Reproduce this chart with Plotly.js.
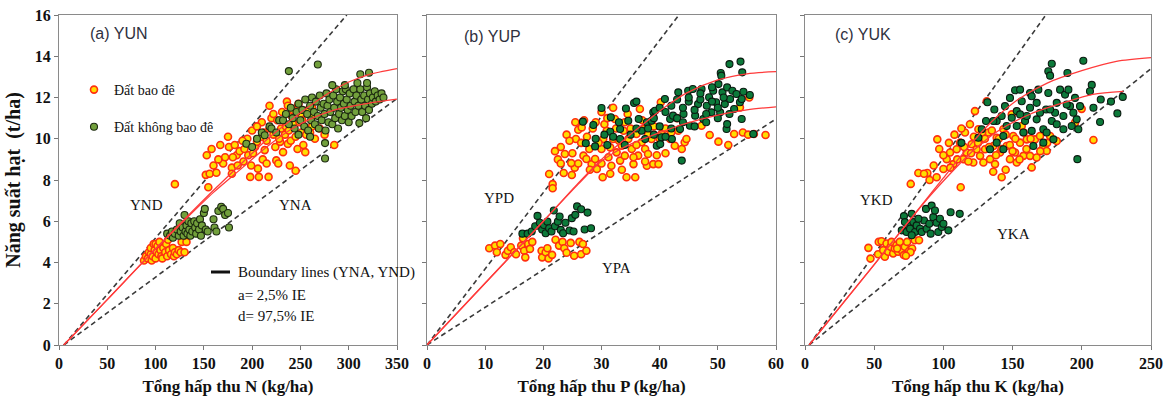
<!DOCTYPE html>
<html><head><meta charset="utf-8">
<script src="https://cdn.plot.ly/plotly-3.0.1.min.js"></script>
<style>html,body{margin:0;padding:0;background:#fff}#chart{width:1173px;height:415px}</style>
</head><body><div id="chart"></div>
<script>
// ---------- Panel (a) YUN : N uptake ----------
const aBaoDe = [[88,4.1],[90,4.3],[92,4.2],[93,4.5],[95,4.4],[95,4.7],[96,4.1],[97,4.3],[98,4.9],[99,4.6],[100,4.2],[100,4.9],[101,4.5],[102,4.8],[103,4.4],[104,5.0],[105,4.6],[106,4.3],[107,4.2],[108,4.7],[110,4.5],[111,4.9],[112,4.3],[113,5.1],[114,4.6],[116,4.4],[118,4.7],[119,4.3],[120,4.5],[122,4.4],[124,4.6],[126,4.5],[127,5.0],[130,4.5],[132,5.0],
[120,7.8],[152,8.25],[156,8.3],[154.6,7.65],[153,9.2],[163,8.35],[167,9.7],[170,8.8],[175,10.1],[176,9.6],[179,8.6],[179,8.3],[182,9.7],[184,9.2],[187,9.4],[191,8.9],[192,9.5],[196,9.2],[198,8.15],[199,8.7],[201,9.3],[203,9.6],[205,9.85],[206,8.55],[207,8.15],[210,10.1],[210,10.8],[211,9.0],[213,9.45],[215,8.8],[217,8.15],[218,11.6],[220,11.0],[222,10.2],[224,9.6],[225,8.95],[227,8.8],[229,9.85],[230,10.5],[232,9.35],[234,10.2],[236,11.8],[237,11.6],[237,9.75],[239,8.7],[241,11.1],[243,10.7],[245,8.45],[246,11.5],[248,11.7],[249,10.8],[251,10.3],[253,9.7],[255,9.35],[256,10.2],[260,10.3],[262,11.5],[263,11.1],[275,10.2],[285,9.7],
[195,10.0],[200,10.4],[205,10.6],[212,10.3],[215,9.9],[218,10.5],[222,11.2],[226,10.9],[228,10.0],[231,11.3],[235,10.6],[238,10.4],[240,9.9],[242,11.4],[245,10.1],[247,9.5],[250,11.2],[252,10.9],[258,11.4],[262,10.6],[265,10.0],[270,10.5],[185,8.7],[190,9.9],[180,9.1],[172,9.1],[165,9.0],[160,8.7],[158,9.5]];
const aKhongBaoDe = [[112,5.4],[115,5.3],[117,5.5],[118,5.2],[120,5.4],[122,5.6],[124,5.3],[125,5.9],[126,5.5],[128,5.7],[129,5.3],[130,6.3],[131,5.5],[132,5.8],[133,5.4],[134,6.0],[135,5.6],[136,5.3],[137,5.9],[138,5.5],[140,6.0],[141,5.7],[142,5.4],[143,5.9],[145,5.6],[146,6.1],[147,5.3],[148,5.8],[150,6.4],[151,6.6],[152,5.6],[154,5.5],[160,6.1],[161,5.7],[163,5.5],[165,6.5],[168,6.7],[170,6.6],[172,6.3],[175,6.4],[176,5.7],
[194,9.76],[200,9.6],[205,10.0],[210,10.3],[213,10.17],[218,10.6],[220,10.5],[225,10.3],[228,10.9],[232,10.9],[235,11.2],[238,10.7],[240,11.5],[242,11.0],[244,10.5],[246,11.3],[248,11.7],[250,10.9],[252,11.4],[254,10.6],[255,11.9],[257,11.2],[258,10.4],[260,11.6],[261,10.9],[262,12.0],[264,11.3],[265,10.7],[266,11.8],[268,11.1],[269,10.5],[270,12.1],[271,11.5],[272,10.9],[274,11.7],[275,11.2],[276,10.4],[277,12.2],[278,11.6],[279,10.8],[280,11.9],[281,11.3],[283,10.7],[284,12.1],[285,11.5],[286,11.0],[287,12.4],[288,11.8],[289,10.5],[290,11.2],[291,12.0],[292,11.5],[293,10.9],[294,12.3],[295,11.7],[296,11.1],[297,12.4],[298,11.9],[299,11.4],[300,10.8],[301,12.2],[302,11.6],[303,11.1],[305,12.4],[306,11.8],[307,11.3],[308,12.1],[310,11.6],[311,10.76],[312,12.4],[313,11.9],[314,11.3],[316,12.1],[317,11.6],[318,11.0],[319,12.5],[320,11.9],[321,11.4],[322,12.2],[324,11.7],[325,12.0],[327,12.3],[328,11.8],[330,12.1],[332,11.9],[334,12.2],[336,12.0],[275.5,9.04],[275.5,9.79],[238,13.28],[268,13.6],[312,13.13],[321,13.2],[283,12.6],[296,12.6],[309,12.7],[319,12.7],[260,10.1],[248,10.2]];
const aCurveHi = [[5,0],[50,2.2],[100,4.67],[130,6.1],[160,7.5],[190,8.85],[215,9.95],[240,10.9],[260,11.6],[284,12.35],[300,12.75],[320,13.1],[350,13.4]];
const aCurveLo = [[5,0],[50,2.2],[100,4.65],[130,6.05],[160,7.4],[190,8.6],[215,9.6],[240,10.45],[260,10.95],[284,11.38],[320,11.72],[350,11.92]];
const aYND = [[5,0],[298,16]];
const aYNA = [[5,0],[350,11.95]];

// ---------- Panel (b) YUP : P uptake ----------
const bBaoDe = [[10.7,4.69],[11.7,4.82],[12.0,4.5],[12.6,4.9],[13.5,4.37],[13.9,4.57],[14.4,4.74],[15.0,4.5],[15.3,4.4],[16.2,4.82],[16.5,5.17],[16.7,4.57],[16.9,4.25],[17.4,4.9],[17.7,4.66],[18.1,5.0],[19.7,4.57],[19.8,4.25],[20.4,4.5],[20.7,4.69],[20.9,4.2],[21.5,4.37],[22.1,5.1],[22.7,4.82],[23.3,5.0],[23.6,4.69],[24.0,4.47],[24.7,4.95],[25.3,4.33],[26.2,5.0],[26.5,4.4],[26.8,4.9],[27.4,4.57],
[21.0,8.29],[21.6,7.8],[21.6,7.6],[23.7,9.26],[23.5,8.34],[24.9,8.24],[25.4,8.6],[24.8,8.82],[25.6,9.99],[26.0,10.44],[26.6,10.55],[26.9,9.18],[27.4,9.02],[27.9,9.5],[28.3,8.77],[28.9,9.02],[29.2,8.53],[30.0,9.5],[30.2,8.13],[30.3,9.99],[30.9,10.39],[31.2,9.1],[31.5,9.58],[31.7,8.69],[32.0,9.99],[32.3,10.96],[32.6,9.34],[33.2,8.94],[33.5,9.66],[33.8,10.39],[34.0,9.18],[34.3,8.13],[34.6,9.99],[35.2,9.5],[35.5,8.77],[35.8,8.13],[36.0,10.23],[36.3,9.18],[36.6,11.44],[36.9,9.83],[37.2,10.47],[37.5,9.5],[37.8,8.69],[38.0,9.26],[38.6,9.99],[38.9,8.77],[39.8,8.77],[40.2,11.77],[40.3,10.23],[41.8,9.99],[42.6,9.66],[43.2,10.39],[43.8,9.5],[44.3,9.83],[44.6,9.99],[47.2,10.63],[48.6,10.18],[50.1,9.86],[51.8,9.7],[52.8,10.23],[54.3,10.3],[55.2,10.2],[56.2,10.23],[58.2,10.18],[55.4,12.0],[53.8,11.52],
[22.5,9.0],[23.0,9.6],[24.0,10.2],[25.0,9.3],[26.5,9.8],[27.5,10.1],[28.5,10.5],[29.5,9.8],[30.5,10.7],[31.0,11.0],[32.5,10.5],[33.0,9.9],[34.0,10.8],[35.0,10.5],[36.0,9.7],[37.0,10.9],[38.0,10.2],[39.0,10.6],[40.0,10.0],[41.0,10.5],[42.0,10.3],[43.0,11.0],[29.0,10.8],[27.0,10.9],[30.0,11.3],[32.0,11.5],[34.5,11.2],[25.5,10.8],[24.5,9.9],[26.0,8.8],[28.0,8.5],[30.0,8.8],[31.5,8.3],[33.5,8.5],[35.5,9.1],[37.5,8.9],[39.5,9.2],[41.0,9.3],[23.0,8.8],[22.0,9.4]];
const bKhongBaoDe = [[16.4,5.4],[17.3,5.4],[18.0,5.5],[18.6,5.76],[19.0,6.26],[19.4,5.93],[19.8,5.6],[20.1,5.82],[20.4,5.42],[20.7,5.98],[21.0,5.66],[21.4,5.5],[21.8,6.52],[22.0,5.76],[22.5,5.98],[22.8,6.23],[23.0,5.58],[23.4,5.42],[23.8,5.93],[24.5,5.55],[24.9,6.15],[25.2,5.5],[25.5,6.31],[25.8,6.72],[26.5,6.58],[27.1,5.6],[27.6,6.42],[28.2,5.66],
[26.8,10.83],[28.6,10.67],[30.0,11.49],[27.3,9.78],[28.9,9.63],[31.5,10.34],[31.6,11.04],[33.2,10.47],[33.2,9.99],[34.2,11.47],[34.6,10.87],[35.6,11.73],[36.0,11.8],[36.4,10.96],[36.9,10.39],[37.5,9.99],[37.8,10.8],[38.6,10.87],[38.9,11.28],[39.2,11.36],[39.5,9.66],[40.1,9.74],[40.3,10.07],[40.9,11.93],[41.8,10.96],[42.1,9.99],[42.3,11.12],[43.2,12.25],[43.5,10.47],[44.1,11.2],[44.9,12.33],[45.2,10.63],[45.7,12.41],[46.1,11.12],[46.6,11.68],[47.2,12.41],[47.5,10.96],[48.1,11.6],[48.5,12.01],[48.9,11.28],[49.2,12.33],[49.7,11.77],[50.1,12.65],[50.4,11.28],[50.8,12.25],[51.2,11.68],[51.6,12.49],[52.1,11.93],[52.5,12.33],[52.8,11.44],[53.2,12.17],[53.8,11.77],[54.4,12.28],[55.5,12.12],
[52.0,13.62],[53.9,13.74],[54.2,13.22],[50.5,13.19],[50.6,13.06],[56.1,10.23],[43.8,8.94],[51.5,10.47],[51.6,10.71],[54.1,10.96],[54.1,11.93],
[38,10.5],[39,11.0],[40,10.6],[41,11.3],[42,11.6],[43,11.0],[44,11.5],[45,11.8],[46,11.4],[47,11.9],[48,11.2],[49,11.8],[50,11.5],[51,12.0],[44,10.8],[46,10.6],[42,10.5],[40,11.5],[43,11.9],[45,12.0],[47,12.2],[49,12.5],[48,10.8],[50,11.0],[52,11.2],[39,10.2],[41,10.1],[36,10.5],[35,10.2],[33,10.8],[32,10.1],[30.5,10.2],[31,9.7],[29,10.0],[34,9.7]];
const bCurveHi = [[0,0],[12,3.6],[20,6.0],[26,7.85],[30,9.0],[34.5,10.1],[38,10.9],[41,11.55],[44.5,12.2],[50,12.85],[55,13.15],[60,13.25]];
const bCurveLo = [[0,0],[12,3.6],[20,6.0],[26,7.8],[29.7,8.85],[32,9.3],[35.5,9.8],[40,10.3],[44,10.7],[50,11.15],[55,11.4],[60,11.55]];
const bYPD = [[0,0],[43.3,16]];
const bYPA = [[0,0],[60,10.96]];

// ---------- Panel (c) YUK : K uptake ----------
const cBaoDe = [[45.8,4.71],[47.3,4.19],[53.3,5.0],[52.8,4.4],[55.3,5.03],[56.5,4.6],[57.7,4.28],[58.9,4.92],[60.1,4.52],[61.8,4.76],[62.5,5.0],[63.7,4.44],[64.9,4.68],[66.1,4.84],[67.3,4.52],[68.5,5.0],[69.7,4.6],[71.4,4.36],[72.1,4.76],[73.8,5.0],[75.2,4.56],[77.4,4.68],[79.3,5.08],[82.4,5.08],[76.2,4.5],[72.9,4.33],[66.6,4.68],
[76.4,7.81],[81.9,8.34],[88.4,8.34],[95.6,9.97],[95.1,8.13],[100,8.53],[102.4,9.01],[104.8,9.33],[107.2,8.77],[109.6,9.49],[112,9.81],[112.5,7.65],[114.4,9.01],[115.6,10.3],[116.8,9.33],[119.2,10.7],[120.4,9.73],[121.6,8.85],[122.8,11.34],[124,9.49],[125.3,10.46],[126.5,9.17],[127.7,9.97],[128.9,8.85],[130.1,9.49],[131.3,11.82],[132.5,10.3],[133.7,9.01],[136.1,9.65],[137.3,8.77],[138.5,10.05],[140.9,9.33],[142.1,8.13],[143.3,10.46],[145.7,9.65],[148.1,9.01],[149.4,11.18],[150.5,10.13],[151.8,9.33],[153,8.85],[155.4,9.81],[156.6,10.62],[157.8,9.17],[160.2,9.97],[162.6,9.17],[163.8,8.61],[166.2,9.97],[167.4,9.09],[169.8,10.13],[172.2,9.65],[174.6,9.41],[177.1,10.13],[181.9,9.89],[199.9,11.45],[208.4,9.94],[195.1,10.78],
[110,9.0],[115,9.6],[118,8.9],[122,10.1],[125,9.8],[128,10.3],[130,10.0],[133,9.6],[135,10.4],[138,9.2],[140,10.0],[142,9.5],[145,10.2],[148,9.7],[150,9.4],[152,10.0],[155,9.0],[158,10.3],[160,9.5],[163,10.0],[105,8.6],[100,9.2],[97,9.5],[93,8.7],[90,8.0],[86,8.3],[104,9.8],[108,10.2],[113,10.5],[120,9.3],[136,8.4],[145,8.5],[170,9.4],[175,9.8]];
const cKhongBaoDe = [[71.5,6.25],[77.1,6.36],[69.9,5.56],[73.4,5.48],[74.7,5.8],[75.9,5.64],[78.3,5.96],[79.5,5.48],[80.7,5.8],[83.1,5.64],[84.3,5.48],[86.0,6.04],[87.4,6.6],[87.9,5.64],[89.8,5.88],[90.8,5.4],[91.5,6.76],[92.7,6.2],[93.9,6.52],[95.1,5.93],[96.3,5.48],[97.5,6.12],[98.8,5.72],[100,5.88],[103.6,5.56],[105.2,6.44],[111.8,6.36],[72.2,5.96],[77.1,5.32],[81.9,6.12],
[113,9.8],[178.3,13.64],[201.1,13.78],[175.8,13.27],[177.1,13.06],[189.6,13.19],[196.8,9.01],[225.7,11.23],[229.6,12.03],[221.1,11.8],[213.2,10.81],[213.7,11.9],[207.2,12.61],[208.4,11.5],[205.9,12.3],
[131.8,11.77],[136.8,11.42],[138.5,10.86],[130.8,10.86],[144.5,11.58],[148.1,11.98],[151.8,12.35],[153,11.34],[156.6,11.82],[159,10.86],[162.6,12.22],[163.8,10.38],[167.4,11.74],[168.6,12.38],[172.2,10.46],[174.2,11.42],[175.8,12.22],[178.3,10.86],[179.5,9.97],[181.9,11.74],[184.3,12.38],[186.7,11.1],[187.9,12.14],[190.3,12.38],[191.5,11.58],[193.9,11.26],[195.1,11.98],[196.3,10.94],[198.7,11.58],[125.3,10.05],[127.7,10.46],[133.7,9.49],[138.5,9.81],[143.3,9.49],[157.8,10.3],[165,9.65],[172.2,9.81],[153,10.62],[145.7,10.62],[143.3,10.13],[160.2,11.1],[167.4,10.94],[174.6,10.3],[186.7,10.46],[181.9,10.7],[180.7,11.26],[177.1,11.42],[169.8,11.26],[162.6,11.5],[155.4,11.18],[149.4,11.02],[142.1,11.1],[136.1,10.86],[189.1,11.66],[192.7,10.62],[197.5,10.46],[155.4,12.38],[163.8,12.06]];
const cCurveHi = [[3,0],[50,3.9],[88,7.1],[100,8.1],[110,8.95],[120,9.75],[130,10.5],[140,11.15],[155,11.95],[175,12.7],[200,13.3],[225,13.75],[250,13.93]];
const cCurveLo = [[3,0],[50,3.9],[88,7.05],[100,7.95],[112,8.8],[122,9.45],[140,10.4],[163,11.2],[187,11.75],[208,12.15],[230,12.3]];
const cYKD = [[3,0],[174,16]];
const cYKA = [[3,0],[250,13.4]];

// ---------- labels ----------
const seriesNames = ['Đất bao đê', 'Đất không bao đê'];
const panelTitles = ['(a) YUN', '(b) YUP', '(c) YUK'];
const xTitles = ['Tổng hấp thu N (kg/ha)', 'Tổng hấp thu P (kg/ha)', 'Tổng hấp thu K (kg/ha)'];
const yTitle = 'Năng suất hạt  (t/ha)';
const lineLabels = [[['YND',91,6.8],['YNA',245,6.8]],[['YPD',12.4,7.13],['YPA',32.5,3.73]],[['YKD',52,7.04],['YKA',151,5.4]]];
const boundaryText = ['Boundary lines (YNA, YND)', 'a= 2,5% IE', 'd= 97,5% IE'];
const xMax = [350, 60, 250];
const xStep = [50, 10, 50];

const serif = 'Liberation Serif, Times New Roman, serif';
const W = 1173, H = 415;
const X = a => a.map(p => p[0]), Y = a => a.map(p => p[1]);

const panels = [
  {or: aBaoDe, gr: aKhongBaoDe, hi: aCurveHi, lo: aCurveLo, d: aYND, a: aYNA, grFill: '#72a03c', grLine: '#1d2a10'},
  {or: bBaoDe, gr: bKhongBaoDe, hi: bCurveHi, lo: bCurveLo, d: bYPD, a: bYPA, grFill: '#0c7a3a', grLine: '#0a1a10'},
  {or: cBaoDe, gr: cKhongBaoDe, hi: cCurveHi, lo: cCurveLo, d: cYKD, a: cYKA, grFill: '#0c7a3a', grLine: '#0a1a10'}
];
const traces = [];
panels.forEach((p, i) => {
  const xa = i === 0 ? 'x' : 'x' + (i + 1), ya = i === 0 ? 'y' : 'y' + (i + 1);
  [p.d, p.a].forEach(l => traces.push({x: X(l), y: Y(l), xaxis: xa, yaxis: ya, mode: 'lines', showlegend: false, hoverinfo: 'skip',
    line: {color: '#3a3a3a', width: 1.6, dash: '5px,3.5px'}}));
  traces.push({x: X(p.or), y: Y(p.or), xaxis: xa, yaxis: ya, mode: 'markers', name: seriesNames[0], legendgroup: 'g0', showlegend: i === 0,
    marker: {size: 7, color: '#ffdd00', line: {color: '#ff3010', width: 1.6}}});
  traces.push({x: X(p.gr), y: Y(p.gr), xaxis: xa, yaxis: ya, mode: 'markers', name: seriesNames[1], legendgroup: 'g1', showlegend: i === 0,
    marker: {size: 7, color: p.grFill, line: {color: p.grLine, width: 1.1}}});
  [p.hi, p.lo].forEach(l => traces.push({x: X(l), y: Y(l), xaxis: xa, yaxis: ya, mode: 'lines', showlegend: false, hoverinfo: 'skip',
    line: {color: '#ff3b3b', width: 1.3, shape: 'spline', smoothing: 0.8}}));
});

const xDom = [[59 / W, 397 / W], [427 / W, 776 / W], [805 / W, 1151 / W]];
const yDom = [1 - 345 / H, 1 - 15 / H];
const layout = {width: W, height: H, margin: {l: 0, r: 0, t: 0, b: 0}, paper_bgcolor: '#fff', plot_bgcolor: '#fff',
  font: {family: serif, color: '#111'},
  showlegend: true,
  legend: {x: 74 / W, y: 1 - 74 / H, xanchor: 'left', yanchor: 'top', bgcolor: 'rgba(0,0,0,0)', font: {family: serif, size: 14, color: '#111'},
    tracegroupgap: 16, traceorder: 'grouped', itemwidth: 30},
  annotations: [], shapes: []};
for (let i = 0; i < 3; i++) {
  const s = i === 0 ? '' : String(i + 1);
  layout['xaxis' + s] = {domain: xDom[i], anchor: 'y' + s, range: [0, xMax[i]], tick0: 0, dtick: xStep[i], showgrid: false, zeroline: false,
    showline: true, mirror: true, linecolor: '#8a8a8a', linewidth: 1, ticks: 'outside', ticklen: 4, tickcolor: '#777',
    tickfont: {family: serif, size: 16, color: '#111', weight: 'bold'},
    title: {text: xTitles[i], font: {family: serif, size: 17, color: '#111', weight: 'bold'}, standoff: 8}, fixedrange: true};
  layout['yaxis' + s] = {domain: yDom, anchor: 'x' + s, range: [0, 16], tick0: 0, dtick: 2, showgrid: false, zeroline: false,
    showline: true, mirror: true, linecolor: '#8a8a8a', linewidth: 1, ticks: 'outside', ticklen: 4, tickcolor: '#777',
    showticklabels: i === 0, tickfont: {family: serif, size: 16, color: '#111', weight: 'bold'}, fixedrange: true,
    title: i === 0 ? {text: yTitle, font: {family: serif, size: 20, color: '#111', weight: 'bold'}, standoff: 8} : {text: ''}};
  const xr = 'x' + s, yr = 'y' + s;
  layout.annotations.push({xref: xr + ' domain', yref: yr + ' domain', x: [0.085, 0.1, 0.08][i], y: [0.945, 0.935, 0.94][i], xanchor: 'left', yanchor: 'middle',
    text: panelTitles[i], showarrow: false, font: {family: 'Liberation Sans Narrow, Liberation Sans, Arial, sans-serif', size: 16, color: '#2f3140'}});
  lineLabels[i].forEach(l => layout.annotations.push({xref: xr, yref: yr, x: l[1], y: l[2], text: l[0], showarrow: false,
    font: {family: serif, size: 15, color: '#111'}}));
}
// boundary-line key inside panel (a)
layout.shapes.push({type: 'line', xref: 'paper', yref: 'paper', x0: 211 / W, x1: 230 / W, y0: 1 - 272 / H, y1: 1 - 272 / H, line: {color: '#111', width: 3}});
boundaryText.forEach((t, k) => layout.annotations.push({xref: 'paper', yref: 'paper', x: 236 / W, y: 1 - [272, 295, 316][k] / H,
  xanchor: 'left', yanchor: 'middle', text: t, showarrow: false, font: {family: serif, size: 15, color: '#111'}}));

Plotly.newPlot('chart', traces, layout, {displayModeBar: false, staticPlot: true});
</script></body></html>
